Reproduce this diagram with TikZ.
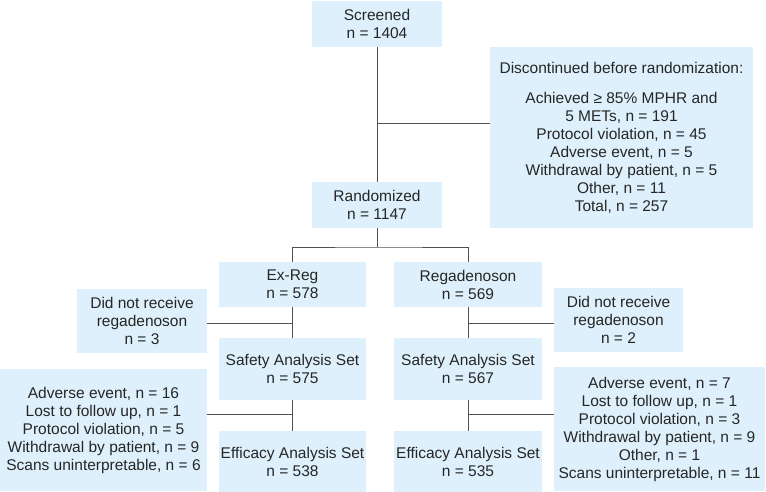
\documentclass[tikz,border=0pt]{standalone}
\usepackage{fontspec}
\setmainfont{Liberation Sans}
\definecolor{boxfill}{RGB}{222,240,251}
\definecolor{linegray}{RGB}{80,80,80}
\tikzset{
  box/.style={fill=boxfill, draw=none, inner sep=0pt, align=center,
    font=\fontsize{15.5}{18}\selectfont, text=black!85},
  conn/.style={draw=linegray, line width=1pt}
}
\begin{document}
\begin{tikzpicture}[x=1pt,y=-1pt]
\useasboundingbox (0,0) rectangle (766,492);
\node[box, minimum width=130pt, minimum height=46pt] (scr) at (377,24) {Screened\\n = 1404};
\node[box, minimum width=263pt, minimum height=181pt] (disc) at (621.5,137.5) {Discontinued before randomization:\\[12pt]Achieved ≥ 85\% MPHR and\\5 METs, n = 191\\Protocol violation, n = 45\\Adverse event, n = 5\\Withdrawal by patient, n = 5\\Other, n = 11\\Total, n = 257};
\node[box, minimum width=130pt, minimum height=46pt] (rand) at (377,205) {Randomized\\n = 1147};
\node[box, minimum width=147pt, minimum height=45pt] (exreg) at (292.5,284.5) {Ex-Reg\\n = 578};
\node[box, minimum width=148pt, minimum height=45pt] (rega) at (468,284.5) {Regadenoson\\n = 569};
\node[box, minimum width=130pt, minimum height=64pt] (dnrL) at (142,321) {Did not receive\\regadenoson\\n = 3};
\node[box, minimum width=147pt, minimum height=62pt] (safL) at (292.5,369) {Safety Analysis Set\\n = 575};
\node[box, minimum width=207pt, minimum height=122pt] (resL) at (103.5,430) {Adverse event, n = 16\\Lost to follow up, n = 1\\Protocol violation, n = 5\\Withdrawal by patient, n = 9\\Scans uninterpretable, n = 6};
\node[box, minimum width=147pt, minimum height=61pt] (effL) at (292.5,461.5) {Efficacy Analysis Set\\n = 538};
\node[box, minimum width=129pt, minimum height=64pt] (dnrR) at (618.5,320) {Did not receive\\regadenoson\\n = 2};
\node[box, minimum width=148pt, minimum height=62pt] (safR) at (468,369) {Safety Analysis Set\\n = 567};
\node[box, minimum width=211pt, minimum height=124pt] (resR) at (659.5,429) {Adverse event, n = 7\\Lost to follow up, n = 1\\Protocol violation, n = 3\\Withdrawal by patient, n = 9\\Other, n = 1\\Scans uninterpretable, n = 11};
\node[box, minimum width=148pt, minimum height=61pt] (effR) at (468,461.5) {Efficacy Analysis Set\\n = 535};
% connectors
\coordinate (j1) at (377,124);
\coordinate (br) at (377,247);
\coordinate (jl1) at (292.5,323);
\coordinate (jl2) at (292.5,414);
\coordinate (jr1) at (468,323);
\coordinate (jr2) at (468,414);
\draw[conn] (scr.south) -- (rand.north);
\draw[conn] (j1) -- (j1 -| disc.west);
\draw[conn] (rand.south) -- (br);
\draw[conn] (exreg.north) |- (br) -| (rega.north);
\draw[conn] (exreg.south) -- (safL.north);
\draw[conn] (safL.south) -- (effL.north);
\draw[conn] (jl1) -- (jl1 -| dnrL.east);
\draw[conn] (jl2) -- (jl2 -| resL.east);
\draw[conn] (rega.south) -- (safR.north);
\draw[conn] (safR.south) -- (effR.north);
\draw[conn] (jr1) -- (jr1 -| dnrR.west);
\draw[conn] (jr2) -- (jr2 -| resR.west);
\end{tikzpicture}
\end{document}
